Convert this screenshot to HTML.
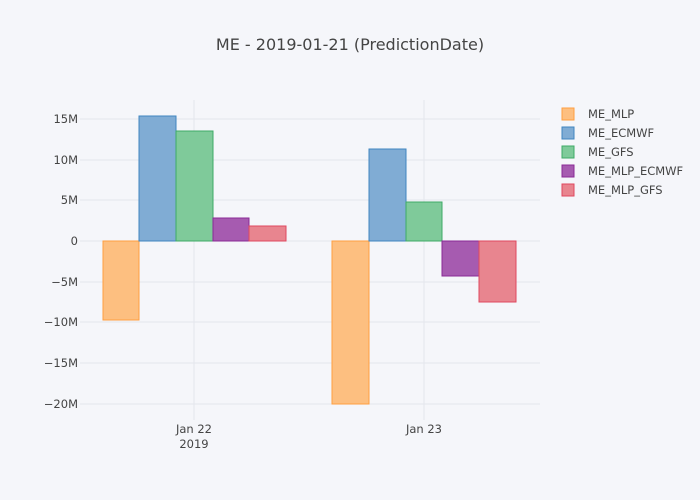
<!DOCTYPE html>
<html><head><style>
html,body{margin:0;padding:0;background:#f5f6fa;overflow:hidden;width:700px;height:500px;}
svg{display:block;}
svg text{font-family:"DejaVu Sans","Liberation Sans",sans-serif;fill:#444;}
</style></head><body>
<svg width="700" height="500" xmlns="http://www.w3.org/2000/svg">
<rect width="700" height="500" fill="#f5f6fa"/>
<text x="350" y="50" text-anchor="middle" font-size="16">ME - 2019-01-21 (PredictionDate)</text>
<g stroke="#e4e6ec" stroke-width="1">
<line x1="80" x2="540" y1="119" y2="119"/><line x1="80" x2="540" y1="160" y2="160"/>
<line x1="80" x2="540" y1="200" y2="200"/><line x1="80" x2="540" y1="282" y2="282"/>
<line x1="80" x2="540" y1="322" y2="322"/><line x1="80" x2="540" y1="363" y2="363"/>
<line x1="80" x2="540" y1="404" y2="404"/>
<line x1="194" x2="194" y1="100" y2="420"/><line x1="424" x2="424" y1="100" y2="420"/>
</g>
<line x1="80" x2="540" y1="241" y2="241" stroke="#e4e6ec" stroke-width="1"/>
<g font-size="11.5" text-anchor="end">
<text x="78" y="123">15M</text><text x="78" y="164">10M</text><text x="78" y="204">5M</text>
<text x="78" y="245">0</text><text x="78" y="286">−5M</text><text x="78" y="326">−10M</text>
<text x="78" y="367">−15M</text><text x="78" y="408">−20M</text>
</g>
<g font-size="11.5" text-anchor="middle">
<text x="194" y="433">Jan 22</text><text x="194" y="448">2019</text><text x="424" y="433">Jan 23</text>
</g>
<g stroke-width="1">
<rect x="103" y="241" width="36" height="79" fill="#fdbf80" stroke="#ff9f40"/>
<rect x="139" y="116" width="37" height="125" fill="#80acd4" stroke="#3f85c0"/>
<rect x="176" y="131" width="37" height="110" fill="#7fca9a" stroke="#3eab66"/>
<rect x="213" y="218" width="36" height="23" fill="#a65bb0" stroke="#8a2a96"/>
<rect x="249" y="226" width="37" height="15" fill="#e8858f" stroke="#e0485f"/>
<rect x="332" y="241" width="37" height="163" fill="#fdbf80" stroke="#ff9f40"/>
<rect x="369" y="149" width="37" height="92" fill="#80acd4" stroke="#3f85c0"/>
<rect x="406" y="202" width="36" height="39" fill="#7fca9a" stroke="#3eab66"/>
<rect x="442" y="241" width="37" height="35" fill="#a65bb0" stroke="#8a2a96"/>
<rect x="479" y="241" width="37" height="61" fill="#e8858f" stroke="#e0485f"/>
</g>
<g font-size="11.5">
<rect x="562" y="108" width="12" height="12" fill="#fdbf80" stroke="#ff9f40"/><text x="588" y="118">ME_MLP</text>
<rect x="562" y="127" width="12" height="12" fill="#80acd4" stroke="#3f85c0"/><text x="588" y="137">ME_ECMWF</text>
<rect x="562" y="146" width="12" height="12" fill="#7fca9a" stroke="#3eab66"/><text x="588" y="156">ME_GFS</text>
<rect x="562" y="165" width="12" height="12" fill="#a65bb0" stroke="#8a2a96"/><text x="588" y="175">ME_MLP_ECMWF</text>
<rect x="562" y="184" width="12" height="12" fill="#e8858f" stroke="#e0485f"/><text x="588" y="194">ME_MLP_GFS</text>
</g>
</svg>
</body></html>
